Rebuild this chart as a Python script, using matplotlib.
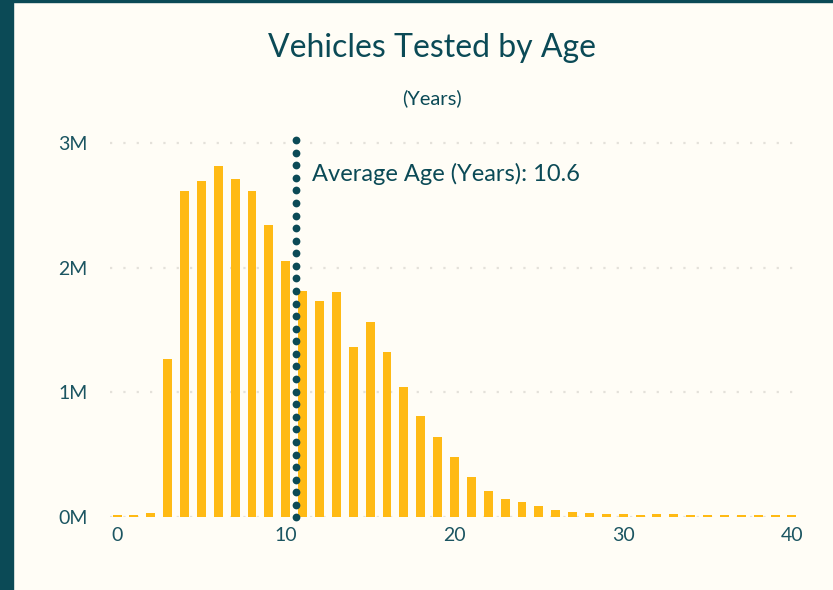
import numpy as np
import matplotlib
matplotlib.use("Agg")
import matplotlib.pyplot as plt
from matplotlib.patches import Rectangle
from matplotlib.ticker import FuncFormatter

# vehicles tested by age (millions)
ages = list(range(0, 41))
vehicles_m = [
    0.022, 0.022, 0.038, 1.265, 2.61, 2.69, 2.81, 2.71, 2.61, 2.34,
    2.05, 1.81, 1.73, 1.80, 1.36, 1.56, 1.32, 1.04, 0.81, 0.64,
    0.48, 0.325, 0.21, 0.15, 0.125, 0.094, 0.062, 0.044, 0.036, 0.028,
    0.028, 0.02, 0.028, 0.028, 0.02, 0.02, 0.02, 0.02, 0.02, 0.02, 0.02,
]
avg_age = 10.6
x_ticks = [0, 10, 20, 30, 40]
y_ticks = [0, 1e6, 2e6, 3e6]

title = "Vehicles Tested by Age"
subtitle = "(Years)"
avg_label = f"Average Age (Years): {avg_age}"

BG = "#fffdf6"
TEAL = "#0b4a56"
TEXT = "#1b5561"
BAR = "#ffba14"
GRID = "#e4e1da"

plt.rcParams["font.family"] = ["Lato", "DejaVu Sans"]

fig = plt.figure(figsize=(8.33, 5.9), dpi=100, facecolor=BG)
ax = fig.add_axes([0.132, 0.1229, 0.8248, 0.6398])
ax.set_facecolor(BG)

# frame decorations: thick band on the left, thin line on top
fig.patches.append(Rectangle((0, 0), 13 / 833, 1, transform=fig.transFigure,
                             color=TEAL, zorder=0))
fig.patches.append(Rectangle((0, 1 - 2 / 590), 1, 2 / 590, transform=fig.transFigure,
                             color=TEAL, zorder=0))

ymax = 3.02e6
values = np.array(vehicles_m) * 1e6
ax.bar(ages, values, width=0.53, color=BAR, zorder=2)

# dotted average line, drawn as round dots spread over the full y range
dots_y = np.linspace(0, ymax, 31)
ax.plot(np.full_like(dots_y, avg_age), dots_y, "o", ms=5.6, color=TEAL,
        mec="none", clip_on=False, zorder=3)
ax.text(avg_age + 0.95, 2.75e6, avg_label, color=TEAL, fontsize=17,
        va="center", ha="left", zorder=4)

ax.set_xlim(-0.42, 40.3)
ax.set_ylim(0, ymax)
ax.set_xticks(x_ticks)
ax.set_yticks(y_ticks)
ax.yaxis.set_major_formatter(FuncFormatter(lambda v, p: f"{v / 1e6:.0f}M"))

ax.grid(axis="y", color=GRID, lw=1.6, linestyle=(0, (1, 5)), zorder=1)
ax.grid(axis="x", visible=False)
for s in ax.spines.values():
    s.set_visible(False)
ax.tick_params(axis="both", length=0, colors=TEXT, labelsize=14)
ax.tick_params(axis="y", pad=16)
ax.tick_params(axis="x", pad=7)

fig.text(0.5186, 1 - 48 / 590, title, ha="center", va="center",
         color=TEAL, fontsize=23)
fig.text(0.5186, 1 - 98 / 590, subtitle, ha="center", va="center",
         color=TEAL, fontsize=14.5)

fig.savefig("out.png", dpi=100, facecolor=BG)
